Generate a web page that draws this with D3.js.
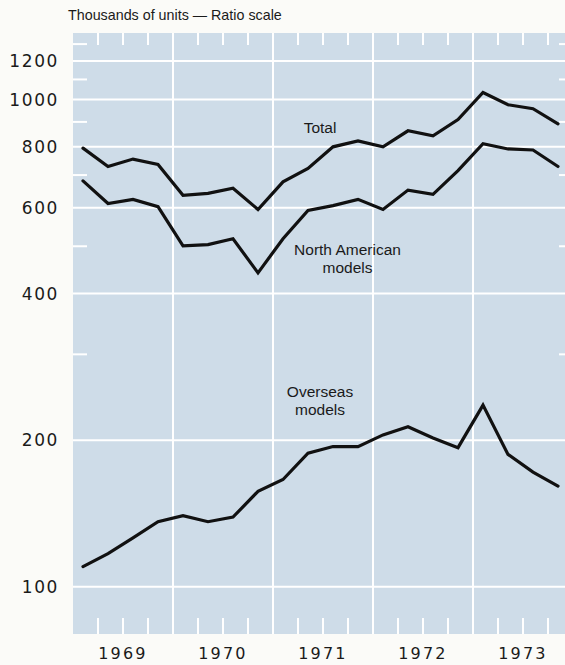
<!DOCTYPE html>
<html>
<head>
<meta charset="utf-8">
<script src="https://cdn.jsdelivr.net/npm/d3@7"></script>
<style>
  body { margin: 0; background: #fbfbf8; }
  svg { display: block; }
</style>
</head>
<body>
<div id="chart"></div>
<script>
// quarterly sales, thousands of units
const quarters = ["1969Q1","1969Q2","1969Q3","1969Q4","1970Q1","1970Q2","1970Q3","1970Q4",
                  "1971Q1","1971Q2","1971Q3","1971Q4","1972Q1","1972Q2","1972Q3","1972Q4",
                  "1973Q1","1973Q2","1973Q3","1973Q4"];
const total         = [795, 729, 755, 736, 636, 642, 658, 595, 678, 722, 800, 823, 800, 863, 843, 910, 1034, 976, 958, 892];
const northAmerican = [681, 612, 624, 603, 501, 504, 518, 441, 518, 592, 606, 624, 595, 652, 639, 715, 812, 792, 788, 729];
const overseas      = [110, 117, 126, 136, 140, 136, 139, 157, 166, 188, 194, 194, 205, 213, 202, 193, 236, 187, 172, 161];

const years = [1969, 1970, 1971, 1972, 1973];
const yTicks = [100, 200, 400, 600, 800, 1000, 1200];
const yMinor = [300, 500, 700, 900, 1100, 1300];

// series labels: [lines, year position, value at first baseline]
const labels = [
  { lines: ["Total"], at: 1971.47, v: 854 },
  { lines: ["North American", "models"], at: 1971.745, v: 480 },
  { lines: ["Overseas", "models"], at: 1971.47, v: 245 }
];

const colors = { bg: "#fbfbf8", plot: "#cedce8", grid: "#ffffff", line: "#111111", text: "#1a1a1a" };

let width = 565, height = 665;
const plot = { left: 73, right: 573, top: 33, bottom: 634 };

const x = d3.scaleLinear().domain([1969, 1974]).range([plot.left, plot.right]);
const y = d3.scaleLog().domain([80, 1370]).range([plot.bottom, plot.top]);

const qPos = q => +q.slice(0, 4) + (+q.slice(5) - 1) / 4 + 0.1;

const svg = d3.select("#chart").append("svg")
    .attr("width", width)
    .attr("height", height);

svg.append("rect")
    .attr("x", plot.left).attr("y", plot.top)
    .attr("width", plot.right - plot.left)
    .attr("height", plot.bottom - plot.top)
    .attr("fill", colors.plot);

const g_grid = svg.append("g").attr("class", "grid")
    .attr("stroke", colors.grid).attr("stroke-width", 2);

// vertical year lines
g_grid.selectAll(".vline").data(years.slice(1))
  .enter().append("line").attr("class", "vline")
    .attr("x1", d => x(d)).attr("x2", d => x(d))
    .attr("y1", plot.top).attr("y2", plot.bottom);

// horizontal value lines
g_grid.selectAll(".hline").data(yTicks)
  .enter().append("line").attr("class", "hline")
    .attr("x1", plot.left).attr("x2", plot.right)
    .attr("y1", d => y(d)).attr("y2", d => y(d));

// quarter ticks, top and bottom
const qTicks = years.flatMap(yr => [0.25, 0.5, 0.75].map(f => yr + f));
g_grid.selectAll(".qtop").data(qTicks)
  .enter().append("line")
    .attr("x1", d => x(d)).attr("x2", d => x(d))
    .attr("y1", plot.top).attr("y2", plot.top + 12);
g_grid.selectAll(".qbot").data(qTicks)
  .enter().append("line")
    .attr("x1", d => x(d)).attr("x2", d => x(d))
    .attr("y1", plot.bottom - 16).attr("y2", plot.bottom);

// minor value ticks, left and right
g_grid.selectAll(".mleft").data(yMinor)
  .enter().append("line")
    .attr("x1", plot.left).attr("x2", plot.left + 14)
    .attr("y1", d => y(d)).attr("y2", d => y(d));
g_grid.selectAll(".mright").data(yMinor)
  .enter().append("line")
    .attr("x1", plot.right - 14).attr("x2", plot.right)
    .attr("y1", d => y(d)).attr("y2", d => y(d));

// series lines
const lineg = d3.line()
    .x((d, i) => x(qPos(quarters[i])))
    .y(d => y(d));

svg.append("g").attr("class", "lines")
  .selectAll("path").data([total, northAmerican, overseas])
  .enter().append("path")
    .attr("d", lineg)
    .attr("fill", "none")
    .attr("stroke", colors.line)
    .attr("stroke-width", 3.2)
    .attr("stroke-linejoin", "miter")
    .attr("stroke-linecap", "round");

// series labels
const g_lab = svg.append("g").attr("class", "labels")
    .attr("font-family", "'Liberation Sans', Arial, sans-serif")
    .attr("font-size", 15.5)
    .attr("fill", colors.text)
    .attr("text-anchor", "middle");

labels.forEach(l => {
  const t = g_lab.append("text").attr("x", x(l.at)).attr("y", y(l.v));
  l.lines.forEach((s, i) => {
    t.append("tspan").attr("x", x(l.at)).attr("dy", i ? 18 : 0).text(s);
  });
});

// y axis labels
svg.append("g").attr("class", "yaxis")
    .attr("font-family", "'DejaVu Sans', sans-serif")
    .attr("font-size", 17)
    .attr("letter-spacing", 1.6)
    .attr("fill", colors.text)
    .attr("text-anchor", "end")
  .selectAll("text").data(yTicks)
  .enter().append("text")
    .attr("x", 59)
    .attr("y", d => y(d))
    .attr("dy", "0.36em")
    .text(d => d);

// year labels
svg.append("g").attr("class", "xaxis")
    .attr("font-family", "'DejaVu Sans', sans-serif")
    .attr("font-size", 16)
    .attr("letter-spacing", 2.2)
    .attr("fill", colors.text)
    .attr("text-anchor", "middle")
  .selectAll("text").data(years)
  .enter().append("text")
    .attr("x", d => x(d + 0.5))
    .attr("y", 659)
    .text(d => d);

// scale note
svg.append("text")
    .attr("x", 68).attr("y", 20)
    .attr("font-family", "'Liberation Sans', Arial, sans-serif")
    .attr("font-size", 14.3)
    .attr("fill", colors.text)
    .text("Thousands of units \u2014 Ratio scale");
</script>
</body>
</html>
